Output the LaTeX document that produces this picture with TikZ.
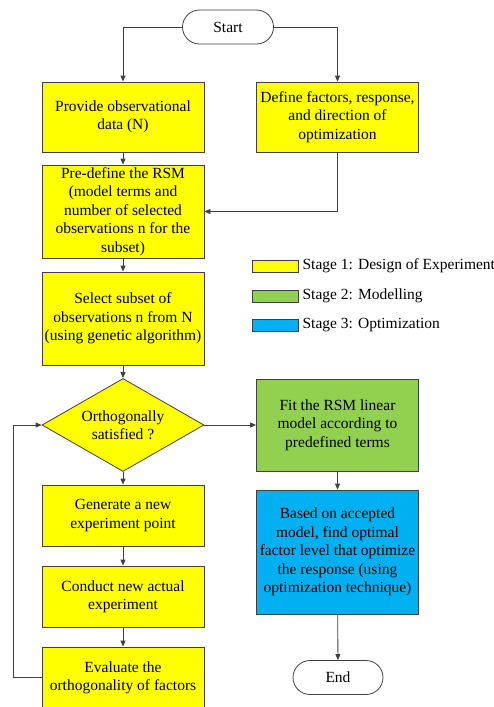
\documentclass[tikz,border=0pt]{standalone}
\usepackage{fontspec}
\setmainfont{Liberation Serif}
\usetikzlibrary{shapes.geometric, shapes.misc, arrows.meta, positioning, calc}

\definecolor{stageone}{HTML}{FFFF00}
\definecolor{stagetwo}{HTML}{92D050}
\definecolor{stagethree}{HTML}{00B0F0}
\definecolor{edgegray}{HTML}{404040}

\begin{document}
\begin{tikzpicture}[x=1pt,y=-1pt,
    font=\fontsize{15.5}{18.4}\selectfont,
    box/.style={draw=edgegray, line width=0.8pt, align=center,
        minimum width=162pt, inner sep=1pt},
    term/.style={draw=edgegray, line width=0.8pt, rounded rectangle, minimum width=93pt,
        minimum height=34pt, inner sep=1pt},
    decide/.style={draw=edgegray, line width=0.8pt, fill=stageone, diamond, aspect=1.74,
        minimum width=162pt, minimum height=93pt, inner sep=0pt, align=center},
    flow/.style={draw=edgegray, line width=0.8pt, -{Triangle[length=6pt,width=5pt]}},
    swatch/.style={draw=edgegray, line width=0.8pt, minimum width=46pt, minimum height=12pt,
        inner sep=0pt}]
\useasboundingbox (0,0) rectangle (494,707);

% Start and the two first steps
\node[term] (start) at (228,27) {Start};
\node[box, fill=stageone, minimum height=70pt] (data) at (123,117) {Provide observational\\data (N)};
\node[box, fill=stageone, minimum height=70pt] (define) at (337.5,117) {Define factors, response,\\and direction of\\optimization};
\draw[flow] (start.west) -| (data.north);
\draw[flow] (start.east) -| (define.north);

% Design of experiment chain
\node[box, fill=stageone, minimum height=93pt] (rsm) at (123,211.5) {Pre-define the RSM\\(model terms and\\number of selected\\observations n for the\\subset)};
\node[box, fill=stageone, minimum height=93pt] (subset) at (123,318.5) {Select subset of\\observations n from N\\(using genetic algorithm)};
\node[decide] (ortho) at (123,425) {Orthogonally\\satisfied ?};
\node[box, fill=stageone, minimum height=61pt] (newpoint) at (123,515.5) {Generate a new\\experiment point};
\node[box, fill=stageone, minimum height=61pt] (conduct) at (123,596.5) {Conduct new actual\\experiment};
\node[box, fill=stageone, minimum height=62pt] (evaluate) at (123,678) {Evaluate the\\orthogonality of factors};
\draw[flow] (data) -- (rsm);
\draw[flow] (define.south) |- (rsm.east);
\draw[flow] (rsm) -- (subset);
\draw[flow] (subset) -- (ortho);
\draw[flow] (ortho) -- (newpoint);
\draw[flow] (newpoint) -- (conduct);
\draw[flow] (conduct) -- (evaluate);
\coordinate (loop) at (13,677);
\draw[flow] (evaluate.west |- loop) -- (loop) |- (ortho.west);

% Modelling and optimization
\node[box, fill=stagetwo, minimum height=92pt] (fit) at (337.5,425) {Fit the RSM linear\\model according to\\predefined terms};
\node[box, fill=stagethree, minimum height=124pt] (optim) at (337.5,552) {Based on accepted\\model, find optimal\\factor level that optimize\\the response (using\\optimization technique)};
\node[term, minimum width=92pt] (finish) at (338,677.5) {End};
\draw[flow] (ortho.east) -- (fit.west);
\draw[flow] (fit) -- (optim);
\draw[flow] (optim) -- (finish);

% Legend
\node[swatch, fill=stageone] (leg1) at (275,266) {};
\node[swatch, fill=stagetwo] (leg2) at (275,296) {};
\node[swatch, fill=stagethree] (leg3) at (275,325) {};
\node[right=3pt of leg1, inner sep=1pt] (txt1) {Stage 1: Design of Experiment};
\node[right=3pt of leg2, inner sep=1pt] (txt2) {Stage 2: Modelling};
\node[right=3pt of leg3, inner sep=1pt] (txt3) {Stage 3: Optimization};
\end{tikzpicture}
\end{document}
